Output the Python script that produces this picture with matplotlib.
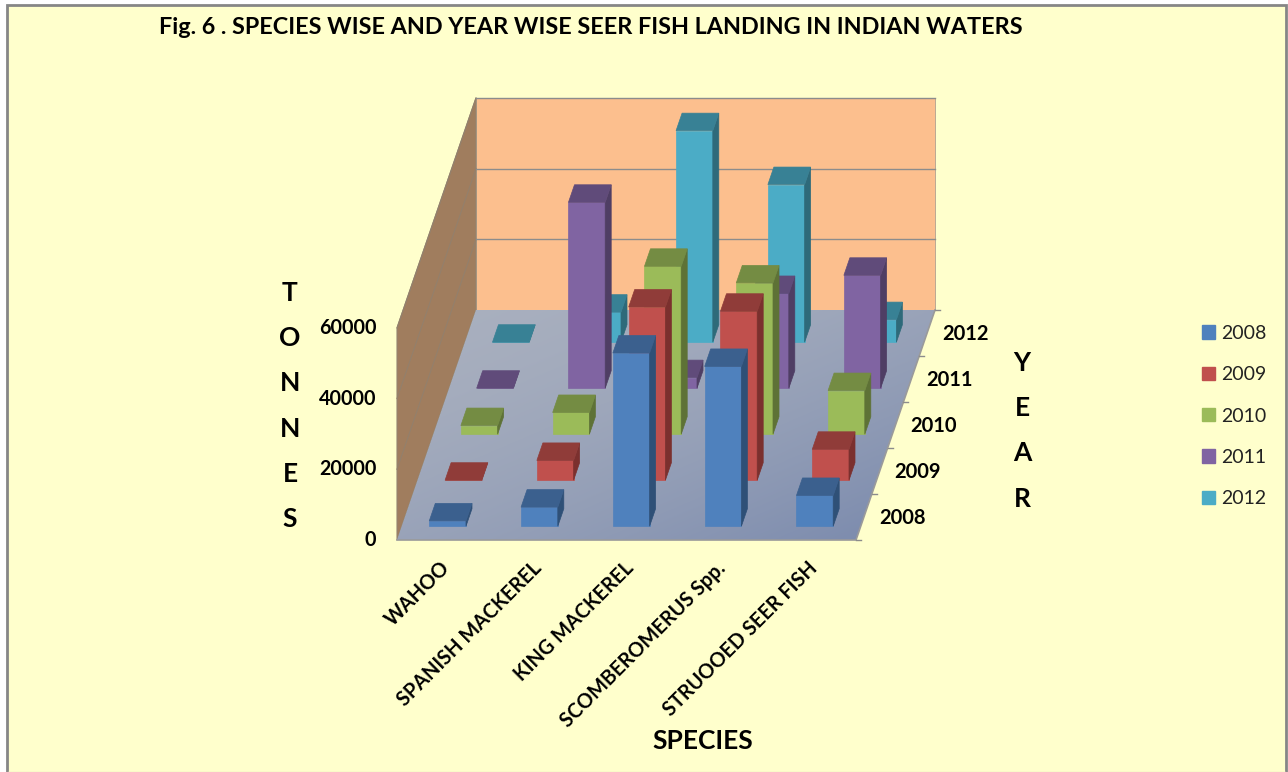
import numpy as np
import matplotlib
matplotlib.use("Agg")
import matplotlib.pyplot as plt
from matplotlib.patches import Patch, Polygon, Rectangle

plt.rcParams['font.family'] = ['Lato', 'DejaVu Sans']

# ---------------------------- data ---------------------------- #
species = ['WAHOO', 'SPANISH MACKEREL', 'KING MACKEREL', 'SCOMBEROMERUS Spp.', 'STRUOOED SEER FISH']
years = ['2008', '2009', '2010', '2011', '2012']
value_ticks = [0, 20000, 40000, 60000]

tonnes_2008 = [1500, 5400, 49000, 45200, 8700]
tonnes_2009 = [0, 5600, 49000, 47800, 8750]
tonnes_2010 = [2450, 6150, 47500, 42800, 12350]
tonnes_2011 = [0, 52600, 3000, 26800, 31950]
tonnes_2012 = [0, 8500, 59850, 44600, 6400]
tonnes = [tonnes_2008, tonnes_2009, tonnes_2010, tonnes_2011, tonnes_2012]

front_colors = ['#4F81BD', '#C0504D', '#9BBB59', '#8064A2', '#4BACC6']
top_colors = ['#3B608E', '#903C39', '#748C43', '#604B7A', '#388195']
side_colors = ['#2F5077', '#7B302E', '#5E7236', '#4F3E64', '#2E6A7A']

# oblique projection of the chart box, in pixels
ORIGIN = (397.0, 540.0)
COL_W = 91.8
ROW_DX = 15.8
ROW_DY = 46.0
PX_PER_TONNE = 70.7 / 20000
BAR = 0.4
BAR_DEPTH = 0.38
GAP = 0.3


def project(col, row, value=0):
    return (ORIGIN[0] + col * COL_W + row * ROW_DX,
            ORIGIN[1] - row * ROW_DY - value * PX_PER_TONNE)


# -------------------- one 3D column as three faces -------------------- #
def draw_bar(ax, col, row, value, front, top, side):
    c0, c1 = col + GAP, col + GAP + BAR
    r0, r1 = row + GAP, row + GAP + BAR_DEPTH
    faces = [
        ([project(c0, r0, 0), project(c1, r0, 0), project(c1, r0, value), project(c0, r0, value)], front),
        ([project(c1, r0, 0), project(c1, r1, 0), project(c1, r1, value), project(c1, r0, value)], side),
        ([project(c0, r0, value), project(c1, r0, value), project(c1, r1, value), project(c0, r1, value)], top),
    ]
    for pts, color in faces:
        ax.add_patch(Polygon(pts, closed=True, facecolor=color, edgecolor=color, linewidth=0.5, zorder=5))


fig = plt.figure(figsize=(12.88, 7.72), dpi=100, facecolor='white')
ax = fig.add_axes([0, 0, 1, 1])

# outer chart area
ax.add_patch(Rectangle((7, 5), 1279.5, 780, facecolor='#FFFFCC', edgecolor='#868686', linewidth=2, zorder=0))
ax.plot([8, 1285], [771.5, 771.5], color='#E6E6BE', linewidth=1, zorder=1)

n_col, n_row = len(species), len(years)
vmax = value_ticks[-1]

# walls
ax.add_patch(Polygon([project(0, n_row), project(n_col, n_row), project(n_col, n_row, vmax), project(0, n_row, vmax)],
                     closed=True, facecolor='#FCBF8E', edgecolor='#B0A090', linewidth=0.6, zorder=1))
ax.add_patch(Polygon([project(0, 0), project(0, n_row), project(0, n_row, vmax), project(0, 0, vmax)],
                     closed=True, facecolor='#A07D5E', edgecolor='#94836F', linewidth=0.8, zorder=1))
for v in value_ticks[1:]:
    xs, ys = zip(project(0, 0, v), project(0, n_row, v))
    ax.plot(xs, ys, color='#93806C', linewidth=0.8, zorder=2)
    xs, ys = zip(project(0, n_row, v), project(n_col, n_row, v))
    ax.plot(xs, ys, color='#8C8C8C', linewidth=1, zorder=2)

# floor with a diagonal gradient
floor = Polygon([project(0, 0), project(n_col, 0), project(n_col, n_row), project(0, n_row)],
                closed=True, facecolor='none', edgecolor='none', zorder=3)
ax.add_patch(floor)
gx, gy = np.meshgrid(np.linspace(0, 1, 200), np.linspace(0, 1, 200))
grad = (gx + gy) / 2
img = ax.imshow(grad ** 1.6, extent=(397, 935, 540, 310), origin='upper', aspect='auto', zorder=3,
                cmap=matplotlib.colors.LinearSegmentedColormap.from_list('floor', ['#A9B0BF', '#7888AC']))
img.set_clip_path(floor)
xs, ys = zip(project(0, 0), project(n_col, 0), project(n_col, n_row))
ax.plot(xs, ys, color='#9A9A9A', linewidth=1.2, zorder=4)

# year ticks along the right floor edge
for r in range(n_row + 1):
    x, y = project(n_col, r)
    ax.plot([x, x + 5], [y, y], color='#8C8C8C', linewidth=1, zorder=4)

# columns, back row first so nearer ones cover them
for r in reversed(range(n_row)):
    for c in range(n_col):
        draw_bar(ax, c, r, tonnes[r][c], front_colors[r], top_colors[r], side_colors[r])

label_kw = dict(fontweight='bold', color='black', zorder=6)

ax.text(591, 28, 'Fig. 6 . SPECIES WISE AND YEAR WISE SEER FISH LANDING IN INDIAN WATERS',
        ha='center', va='center', fontsize=16.8, **label_kw)

for v in value_ticks:
    x, y = project(0, 0, v)
    ax.text(x - 20.5, y, str(v), ha='right', va='center', fontsize=14.2, **label_kw)

for r, year in enumerate(years):
    x, y = project(n_col, r + 0.5)
    ax.text(x + 15, y + 1.5, year, ha='left', va='center', fontsize=14.5, **label_kw)

for c, name in enumerate(species):
    x, y = project(c + 0.5, 0)
    ax.text(x - 3, y + 18, name, ha='right', va='top', rotation=45, rotation_mode='anchor', fontsize=14.3, **label_kw)

for letter, y in zip('TONNES', [293, 338, 383, 429, 474, 519]):
    ax.text(290, y, letter, ha='center', va='center', fontsize=19, **label_kw)
for letter, y in zip('YEAR', [363, 408, 453, 499]):
    ax.text(1022, y, letter, ha='center', va='center', fontsize=19, **label_kw)
ax.text(703, 741, 'SPECIES', ha='center', va='center', fontsize=19, **label_kw)

handles = [Patch(facecolor=c, edgecolor=c, label=y) for c, y in zip(front_colors, years)]
ax.legend(handles=handles, loc='center left', bbox_to_anchor=(1184 / 1288, 1 - 416 / 772), frameon=False,
          fontsize=14, handlelength=0.68, handleheight=0.68, handletextpad=0.35, labelspacing=1.25,
          labelcolor='#222222')

ax.set_xlim(0, 1288)
ax.set_ylim(772, 0)
ax.axis('off')

plt.savefig('out.png', dpi=100, facecolor='white')
